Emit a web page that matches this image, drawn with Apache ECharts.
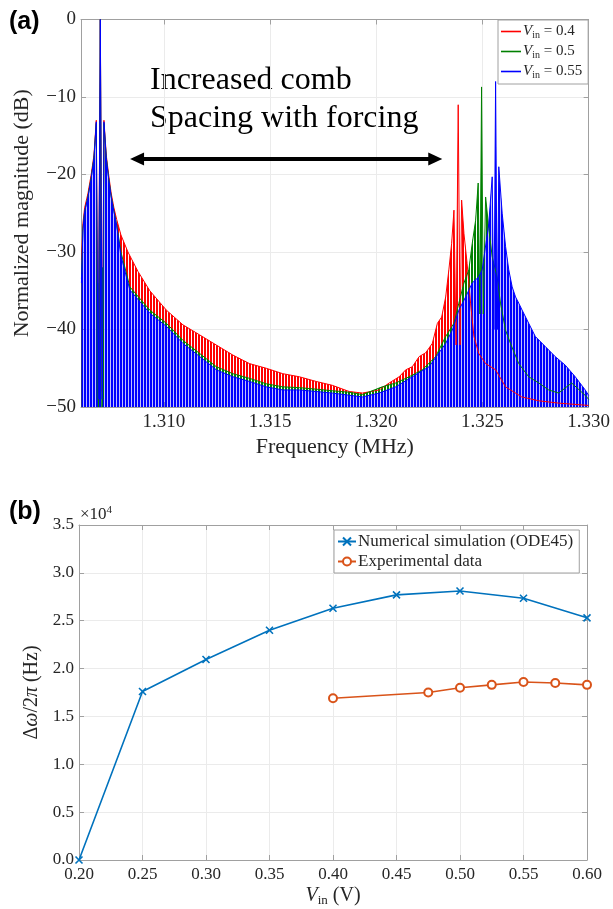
<!DOCTYPE html>
<html><head><meta charset="utf-8">
<script src="https://cdn.jsdelivr.net/npm/echarts@6/dist/echarts.min.js"></script>
<style>html,body{margin:0;padding:0;background:#fff}#c{width:613px;height:909px}</style>
</head><body><div id="c"></div>
<script>
// ---------- Panel (a): spectra (tooth-top envelope) ----------
const freqRed = [1.30612,1.30619,1.30627,1.30643,1.30658,1.30671,1.30682,1.30691,1.30701,1.30710,1.30718,1.30729,1.30740,1.30752,1.30765,1.30778,1.30798,1.30831,1.30878,1.30934,1.31012,1.31090,1.31169,1.31247,1.31325,1.31403,1.31482,1.31560,1.31638,1.31717,1.31793,1.31873,1.31935,1.32014,1.32061,1.32108,1.32139,1.32170,1.32202,1.32233,1.32264,1.32288,1.32308,1.32327,1.32342,1.32355,1.32366,1.32376,1.32386,1.32395,1.32402,1.32413,1.32428,1.32444,1.32460,1.32483,1.32515,1.32562,1.32609,1.32685,1.32765,1.32859,1.33000];
const magRed = [-31.0,-26.3,-24.3,-22.4,-20.0,-17.5,-13.0,-48,0,-48,-13.0,-17.5,-20.0,-22.4,-24.3,-25.8,-27.8,-30.0,-32.5,-35.0,-37.5,-39.4,-40.7,-42.0,-43.3,-44.4,-45.0,-45.7,-46.1,-46.7,-47.2,-48.0,-48.2,-47.8,-46.9,-46.1,-45.2,-44.8,-43.5,-43.0,-41.8,-39.2,-38.4,-35.8,-32.3,-28.9,-24.6,-42,-11.0,-42,-23.3,-27.6,-31.5,-36.6,-40.9,-43.1,-44.4,-45.2,-47.4,-48.7,-49.2,-49.5,-49.8];

const freqGreen = [1.30612,1.30619,1.30627,1.30643,1.30658,1.30671,1.30682,1.30687,1.30689,1.30692,1.30701,1.30709,1.30712,1.30715,1.30718,1.30729,1.30740,1.30752,1.30765,1.30778,1.30798,1.30840,1.30934,1.31012,1.31090,1.31169,1.31247,1.31325,1.31403,1.31482,1.31560,1.31638,1.31717,1.31793,1.31873,1.31935,1.32028,1.32092,1.32155,1.32217,1.32280,1.32327,1.32366,1.32389,1.32413,1.32436,1.32452,1.32468,1.32480,1.32488,1.32496,1.32504,1.32515,1.32530,1.32546,1.32569,1.32585,1.32609,1.32632,1.32671,1.32718,1.32765,1.32812,1.32859,1.32920,1.32984,1.33000];
const magGreen = [-33.5,-27.0,-24.8,-22.8,-20.4,-17.8,-13.4,-49,-34,-50,0,-50,-32,-49,-13.4,-17.8,-20.4,-22.8,-24.7,-26.5,-30.0,-34.5,-37.5,-39.2,-41.4,-43.1,-44.8,-45.7,-46.3,-47.0,-47.4,-47.5,-47.7,-47.9,-48.1,-48.4,-47.4,-46.9,-46.1,-45.2,-43.5,-40.9,-39.2,-36.6,-34.0,-32.3,-28.9,-25.9,-21.1,-38,-8.7,-38,-22.9,-27.0,-30.6,-33.2,-36.6,-40.1,-41.8,-44.4,-46.1,-46.9,-47.8,-48.2,-46.9,-48.5,-49.0];

const freqBlue = [1.30612,1.30619,1.30627,1.30643,1.30658,1.30671,1.30682,1.30691,1.30701,1.30710,1.30718,1.30729,1.30740,1.30752,1.30765,1.30778,1.30798,1.30840,1.30934,1.31012,1.31090,1.31169,1.31247,1.31325,1.31403,1.31482,1.31560,1.31638,1.31717,1.31793,1.31935,1.32014,1.32092,1.32170,1.32249,1.32327,1.32358,1.32389,1.32421,1.32452,1.32483,1.32499,1.32530,1.32546,1.32554,1.32562,1.32570,1.32577,1.32593,1.32609,1.32624,1.32640,1.32656,1.32671,1.32687,1.32718,1.32749,1.32796,1.32843,1.32890,1.32937,1.32984,1.33000];
const magBlue = [-34.0,-27.2,-24.8,-22.9,-20.5,-17.9,-13.2,-49,0,-49,-13.2,-17.9,-20.5,-22.9,-24.8,-26.6,-30.5,-34.9,-37.9,-39.6,-41.8,-43.5,-45.2,-46.1,-46.7,-47.4,-47.8,-47.8,-48.0,-48.2,-48.7,-48.2,-47.4,-46.1,-44.8,-41.8,-40.1,-37.5,-35.8,-34.0,-33.2,-32.3,-26.3,-20.3,-40,-8.0,-40,-19.0,-25.0,-29.3,-32.3,-34.5,-35.8,-36.6,-37.5,-39.2,-40.9,-42.2,-43.5,-44.6,-46.1,-47.8,-48.5];

const freqTicks = [1.310, 1.315, 1.320, 1.325, 1.330];
const seriesNamesA = ['V04', 'V05', 'V055'];
const vinLabelsA = ['0.4', '0.5', '0.55'];

// ---------- Panel (b) ----------
const vinNum = [0.20, 0.25, 0.30, 0.35, 0.40, 0.45, 0.50, 0.55, 0.60];
const dwNum  = [0, 17600, 20950, 24000, 26300, 27700, 28100, 27350, 25300];
const vinExp = [0.40, 0.475, 0.50, 0.525, 0.55, 0.575, 0.60];
const dwExp  = [16900, 17500, 18000, 18300, 18600, 18500, 18300];

const SERIF = "'Liberation Serif','Times New Roman',serif";
const AX = '#a0a0a0', GRID = '#ebebeb', TXT = '#262626';

function stripe(fg, gap) {
  const cv = document.createElement('canvas');
  cv.width = 3; cv.height = 4;
  const ctx = cv.getContext('2d');
  ctx.fillStyle = fg; ctx.fillRect(0, 0, 2, 4);
  ctx.clearRect(2, 0, 1, 4);
  ctx.fillStyle = gap; ctx.fillRect(2, 0, 1, 4);
  return cv;
}
const zip = (a, b) => a.map((v, i) => [v, b[i]]);
const minus = v => String(v).replace('-', '\u2212');

const chart = echarts.init(document.getElementById('c'), null, {renderer: 'canvas'});

function specSeries(name, f, m, col, gap) {
  return {
    type: 'line', name, xAxisIndex: 0, yAxisIndex: 0, data: zip(f, m),
    symbol: 'none', animation: false, silent: true,
    lineStyle: {color: col, width: 1},
    itemStyle: {color: col},
    areaStyle: {origin: 'start', opacity: 1, color: {image: stripe(col, gap), repeat: 'repeat'}}
  };
}

const boxAxis = (grid, pos, min, max, extra) => Object.assign({
  gridIndex: grid, type: 'value', position: pos, min, max,
  axisLine: {show: true, onZero: false, lineStyle: {color: AX}},
  axisTick: {show: true, inside: true, length: 5, lineStyle: {color: AX}},
  axisLabel: {show: false}, splitLine: {show: false}
}, extra);

const labelStyle = size => ({color: TXT, fontFamily: SERIF, fontSize: size});

const blueSpec = specSeries('V055', freqBlue, magBlue, '#0000ff', 'rgba(0,0,255,0.25)');
blueSpec.markLine = {
  silent: true, symbol: ['triangle', 'triangle'], symbolSize: [13, 14],
  lineStyle: {color: '#000', width: 4, type: 'solid'}, itemStyle: {color: '#000'},
  label: {show: false}, emphasis: {disabled: true},
  data: [[{coord: [1.30874, -18]}, {coord: [1.32278, -18]}]]
};

const option = {
  animation: false,
  backgroundColor: '#fff',
  grid: [
    {left: 81, top: 19.5, width: 509, height: 387.5},
    {left: 79, top: 525, width: 508, height: 335}
  ],
  xAxis: [
    {
      gridIndex: 0, type: 'value', min: 1.3061, max: 1.33,
      axisLine: {show: true, onZero: false, lineStyle: {color: AX}},
      axisTick: {show: true, inside: true, length: 5, customValues: freqTicks, lineStyle: {color: AX}},
      axisLabel: Object.assign({customValues: freqTicks, formatter: v => v.toFixed(3), margin: 6}, labelStyle(19)),
      splitLine: {show: true, lineStyle: {color: GRID}},
      name: 'Frequency (MHz)', nameLocation: 'middle', nameGap: 29,
      nameTextStyle: labelStyle(22)
    },
    boxAxis(0, 'top', 1.3061, 1.33, {axisTick: {show: true, inside: true, length: 5, customValues: freqTicks, lineStyle: {color: AX}}}),
    {
      gridIndex: 1, type: 'value', min: 0.2, max: 0.6, interval: 0.05,
      axisLine: {show: true, onZero: false, lineStyle: {color: AX}},
      axisTick: {show: true, inside: true, length: 5, lineStyle: {color: AX}},
      axisLabel: Object.assign({formatter: v => v.toFixed(2), margin: 6}, labelStyle(17)),
      splitLine: {show: true, lineStyle: {color: GRID}},
      name: '{i|V}{s|in}{n| (V)}', nameLocation: 'middle', nameGap: 25,
      nameTextStyle: {color: TXT, fontFamily: SERIF, fontSize: 20, rich: {
        i: {fontFamily: SERIF, fontStyle: 'italic', fontSize: 20, color: TXT},
        s: {fontFamily: SERIF, fontSize: 13, color: TXT, padding: [9, 0, 0, 0]},
        n: {fontFamily: SERIF, fontSize: 20, color: TXT}}}
    },
    boxAxis(1, 'top', 0.2, 0.6, {interval: 0.05})
  ],
  yAxis: [
    {
      gridIndex: 0, type: 'value', min: -50, max: 0, interval: 10,
      axisLine: {show: true, onZero: false, lineStyle: {color: AX}},
      axisTick: {show: true, inside: true, length: 5, lineStyle: {color: AX}},
      axisLabel: Object.assign({formatter: v => minus(v), margin: 5}, labelStyle(19)),
      splitLine: {show: true, lineStyle: {color: GRID}},
      name: 'Normalized magnitude (dB)', nameLocation: 'middle', nameGap: 48,
      nameTextStyle: labelStyle(22)
    },
    boxAxis(0, 'right', -50, 0, {interval: 10}),
    {
      gridIndex: 1, type: 'value', min: 0, max: 35000, interval: 5000,
      axisLine: {show: true, onZero: false, lineStyle: {color: AX}},
      axisTick: {show: true, inside: true, length: 5, lineStyle: {color: AX}},
      axisLabel: Object.assign({formatter: v => (v / 1e4).toFixed(1), margin: 5}, labelStyle(17)),
      splitLine: {show: true, lineStyle: {color: GRID}},
      name: '{d|\u0394}{w|\u03c9}{d|/2}{w|\u03c0}{d| (Hz)}', nameLocation: 'middle', nameGap: 28,
      nameTextStyle: {color: TXT, fontFamily: SERIF, fontSize: 20, rich: {
        d: {fontFamily: SERIF, fontSize: 20, color: TXT},
        w: {fontFamily: SERIF, fontStyle: 'italic', fontSize: 20, color: TXT}}}
    },
    boxAxis(1, 'right', 0, 35000, {interval: 5000})
  ],
  legend: [
    {
      data: seriesNamesA.map(n => ({name: n, icon: 'rect'})), orient: 'vertical', left: 498, top: 20,
      padding: [4, 6, 4, 3], itemGap: 4, itemWidth: 20, itemHeight: 1.6,
      backgroundColor: '#fff', borderColor: AX, borderWidth: 1, borderRadius: 0,
      selectedMode: false,
      formatter: n => '{i|V}{s|in}{n| = ' + vinLabelsA[seriesNamesA.indexOf(n)] + '}',
      textStyle: {color: TXT, fontFamily: SERIF, fontSize: 15, padding: [0, 0, 0, -3], rich: {
        i: {fontFamily: SERIF, fontStyle: 'italic', fontSize: 15, color: TXT, height: 15},
        s: {fontFamily: SERIF, fontSize: 10, color: TXT, padding: [7, 0, 0, 0]},
        n: {fontFamily: SERIF, fontSize: 15, color: TXT}}}
    },
    {
      data: ['Numerical simulation (ODE45)', 'Experimental data'], orient: 'vertical', left: 334, top: 530,
      padding: [3, 6, 3, 3], itemGap: 3, itemWidth: 18, itemHeight: 10,
      backgroundColor: '#fff', borderColor: AX, borderWidth: 1, borderRadius: 0,
      selectedMode: false,
      textStyle: {color: TXT, fontFamily: SERIF, fontSize: 17, padding: [0, 0, 0, -3]}
    }
  ],
  series: [
    specSeries('V04', freqRed, magRed, '#ff0000', 'rgba(255,255,255,0)'),
    specSeries('V05', freqGreen, magGreen, '#008000', 'rgba(255,255,255,0)'),
    blueSpec,
    {
      type: 'line', name: 'Numerical simulation (ODE45)', xAxisIndex: 2, yAxisIndex: 2,
      data: zip(vinNum, dwNum), symbol: 'path://M0,0L10,10M10,0L0,10', symbolSize: 7,
      lineStyle: {color: '#0072BD', width: 1.6},
      itemStyle: {color: '#0072BD', borderColor: '#0072BD', borderWidth: 1.6}
    },
    {
      type: 'line', name: 'Experimental data', xAxisIndex: 2, yAxisIndex: 2,
      data: zip(vinExp, dwExp), symbol: 'emptyCircle', symbolSize: 8,
      lineStyle: {color: '#D95319', width: 1.6},
      itemStyle: {color: '#D95319', borderColor: '#D95319', borderWidth: 1.6}
    }
  ],
  graphic: [
    {type: 'text', left: 9, top: 10, style: {text: '(a)', fill: '#000', font: "bold 25px 'Liberation Sans', Arial, sans-serif"}},
    {type: 'text', left: 9, top: 500, style: {text: '(b)', fill: '#000', font: "bold 25px 'Liberation Sans', Arial, sans-serif"}},
    {type: 'text', left: 150, top: 62, style: {text: 'Increased comb\nSpacing with forcing', fill: '#000', font: "32px 'Liberation Serif', serif", lineHeight: 38}},
    {type: 'text', left: 80, top: 505, style: {text: '{a|\u00d710}{b|4}', rich: {
      a: {fontFamily: SERIF, fontSize: 17, fill: TXT},
      b: {fontFamily: SERIF, fontSize: 11, fill: TXT, padding: [0, 0, 9, 0]}}}}
  ]
};
chart.setOption(option);
</script>
</body></html>
